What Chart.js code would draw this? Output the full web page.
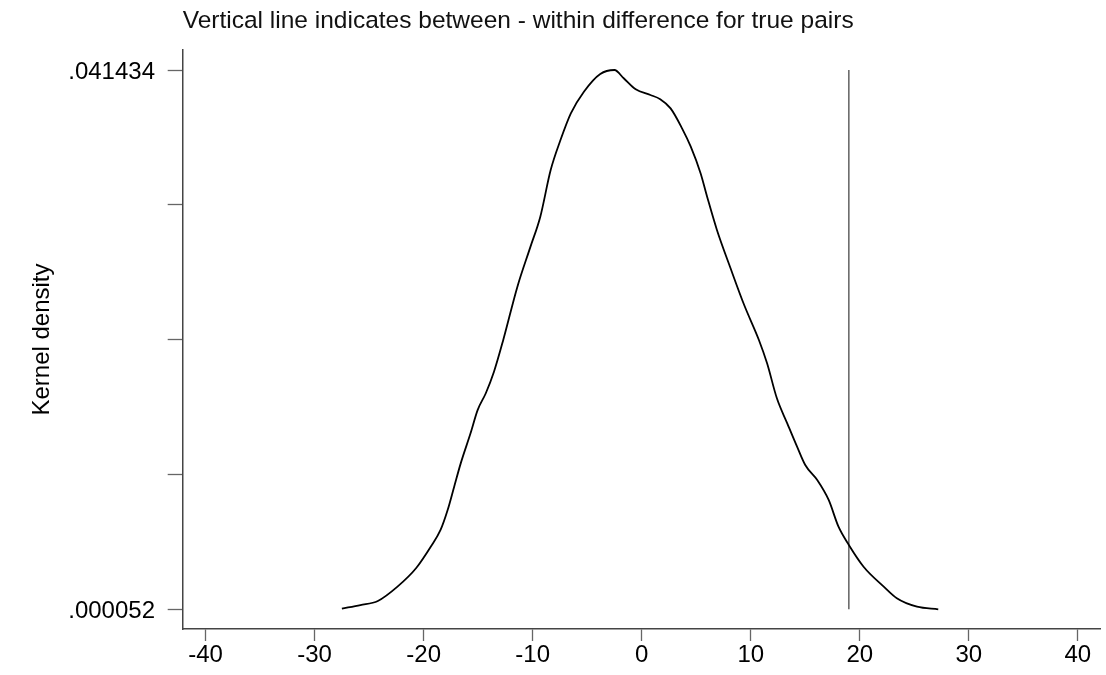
<!DOCTYPE html>
<html>
<head>
<meta charset="utf-8">
<script src="https://cdn.jsdelivr.net/npm/chart.js@4.4.1/dist/chart.umd.min.js"></script>
<style>
  html, body { margin: 0; padding: 0; background: #fff; }
  #wrap { width: 1106px; height: 675px; }
</style>
</head>
<body>
<div id="wrap"><canvas id="chart"></canvas></div>
<script>
// kernel density of between - within differences
const densityX = [
  -27.5, -25.8, -24.2, -22.4, -20.7, -19.35, -18.45, -17.8, -17.2, -16.6,
  -15.7, -15.05, -14.3, -13.55, -12.7, -11.4, -10.2, -9.3, -8.35, -7.45,
  -6.5, -5.3, -3.8, -2.5, -1.65, -0.55, 0.8, 1.7, 2.65, 3.7,
  4.5, 5.4, 6.0, 6.9, 8.15, 9.4, 10.75, 11.5, 12.4, 13.35,
  14.25, 15.0, 16.1, 17.15, 18.05, 19.0, 20.35, 22.2, 23.4, 25.25,
  27.2
];
const densityY = [
  0.000110, 0.000380, 0.000690, 0.001790, 0.003200, 0.004850, 0.006140, 0.007670, 0.009460, 0.011250,
  0.013560, 0.015340, 0.016630, 0.018280, 0.020720, 0.024810, 0.027880, 0.030180, 0.033760, 0.036060,
  0.038110, 0.039770, 0.041130, 0.041434, 0.040800, 0.039950, 0.039520, 0.039190, 0.038490, 0.036960,
  0.035550, 0.033510, 0.031710, 0.029160, 0.026220, 0.023400, 0.020720, 0.018930, 0.016240, 0.014320,
  0.012530, 0.011120, 0.009970, 0.008440, 0.006390, 0.004990, 0.003320, 0.001790, 0.000900, 0.000250,
  0.000052
];

// between - within difference for true pairs
const trueDiff = 19.0;

const xTicks = [-40, -30, -20, -10, 0, 10, 20, 30, 40];
const yTicks = [0.000052, 0.0103975, 0.020743, 0.0310885, 0.041434];
const yTickLabels = ['.000052', '', '', '', '.041434'];

const family = "'Liberation Sans', Arial, sans-serif";
const font = { family: family, size: 24, weight: 'normal' };

new Chart(document.getElementById('chart'), {
  type: 'line',
  data: {
    datasets: [
      {
        data: densityX.map((x, i) => ({ x: x, y: densityY[i] })),
        borderColor: '#000',
        borderWidth: 1.8,
        pointRadius: 0,
        tension: 0.4,
        cubicInterpolationMode: 'monotone',
        fill: false,
      },
      {
        data: [
          { x: trueDiff, y: yTicks[0] },
          { x: trueDiff, y: yTicks[yTicks.length - 1] },
        ],
        borderColor: '#555',
        borderWidth: 1.4,
        pointRadius: 0,
        fill: false,
      },
    ],
  },
  options: {
    responsive: true,
    maintainAspectRatio: false,
    animation: false,
    layout: { padding: { left: 0, right: 5.3, top: 0, bottom: 0 } },
    plugins: {
      legend: { display: false },
      tooltip: { enabled: false },
      title: {
        display: true,
        text: 'Vertical line indicates between - within difference for true pairs',
        align: 'start',
        fullSize: false,
        color: '#111',
        font: { family: family, size: 24.5, weight: 'normal' },
        padding: { top: 7, bottom: 13.6 },
      },
    },
    scales: {
      x: {
        type: 'linear',
        min: -42.1,
        max: 42.1,
        afterBuildTicks: (s) => { s.ticks = xTicks.map((v) => ({ value: v })); },
        afterFit: (s) => { s.height = 46; },
        grid: { drawOnChartArea: false, drawTicks: true, tickLength: 12, tickColor: '#666', tickWidth: 1.3 },
        border: { display: true, color: '#444', width: 1.5 },
        ticks: { color: '#000', font: font, padding: 0, maxRotation: 0, autoSkip: false },
      },
      y: {
        min: -0.00146,
        max: 0.04297,
        afterBuildTicks: (s) => { s.ticks = yTicks.map((v) => ({ value: v })); },
        afterFit: (s) => { s.width = 182.7; },
        grid: { drawOnChartArea: false, drawTicks: true, tickLength: 15, tickColor: '#666', tickWidth: 1.3 },
        border: { display: true, color: '#444', width: 1.5 },
        ticks: {
          color: '#000',
          font: font,
          padding: 12.7,
          labelOffset: 2,
          autoSkip: false,
          callback: (v, i) => yTickLabels[i],
        },
        title: {
          display: true,
          text: 'Kernel density',
          color: '#000',
          font: font,
          padding: { top: 28, bottom: 0 },
        },
      },
    },
  },
});
</script>
</body>
</html>
